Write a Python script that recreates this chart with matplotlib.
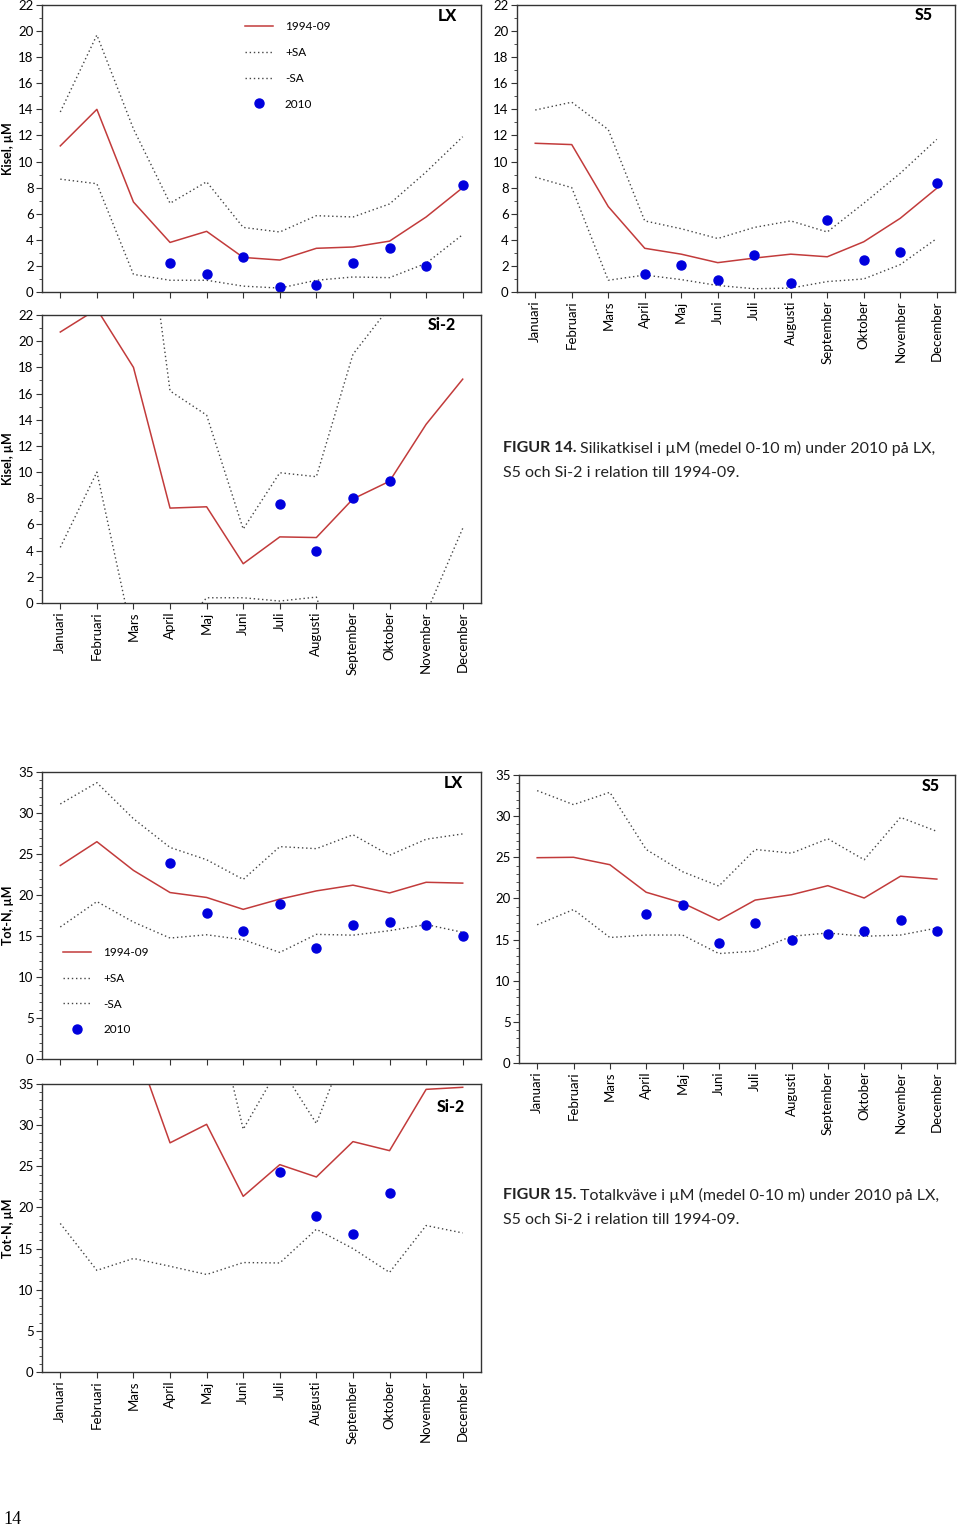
import numpy as np
import matplotlib
matplotlib.use('Agg')
import matplotlib.pyplot as plt
from matplotlib.ticker import MultipleLocator
from matplotlib.lines import Line2D

plt.rcParams['font.family'] = ['Lato', 'DejaVu Sans']

months = ['Januari', 'Februari', 'Mars', 'April', 'Maj', 'Juni', 'Juli',
          'Augusti', 'September', 'Oktober', 'November', 'December']
nan = np.nan

# Kisel (silikat), uM
kisel_lx_mean = [11.2, 14.0, 6.9, 3.8, 4.65, 2.65, 2.45, 3.35, 3.45, 3.9, 5.75, 8.0]
kisel_lx_plus = [13.8, 19.7, 12.5, 6.8, 8.45, 4.95, 4.6, 5.85, 5.75, 6.75, 9.2, 11.9]
kisel_lx_minus = [8.65, 8.3, 1.35, 0.9, 0.9, 0.45, 0.3, 0.9, 1.15, 1.1, 2.2, 4.4]
kisel_lx_2010 = [nan, nan, nan, 2.25, 1.4, 2.7, 0.35, 0.5, 2.2, 3.35, 2.0, 8.2]

kisel_s5_mean = [11.4, 11.3, 6.55, 3.35, 2.9, 2.25, 2.6, 2.9, 2.7, 3.85, 5.65, 7.95]
kisel_s5_plus = [13.95, 14.55, 12.45, 5.45, 4.85, 4.1, 4.95, 5.45, 4.6, 6.8, 9.1, 11.7]
kisel_s5_minus = [8.8, 8.0, 0.9, 1.3, 0.95, 0.5, 0.25, 0.3, 0.8, 1.0, 2.1, 4.1]
kisel_s5_2010 = [nan, nan, nan, 1.35, 2.1, 0.95, 2.85, 0.7, 5.5, 2.45, 3.1, 8.35]

kisel_si2_mean = [20.7, 22.45, 18.0, 7.25, 7.35, 3.0, 5.05, 5.0, 7.95, 9.3, 13.65, 17.1]
kisel_si2_plus = [36.0, 40.0, 37.4, 16.2, 14.35, 5.65, 9.95, 9.65, 19.0, 22.6, 27.0, 28.0]
kisel_si2_minus = [4.25, 10.0, -2.9, -2.8, 0.4, 0.4, 0.15, 0.45, -7.5, -6.0, -0.8, 5.7]
kisel_si2_2010 = [nan, nan, nan, nan, nan, nan, 7.6, 3.95, 8.0, 9.35, nan, nan]

# Tot-N, uM
totn_lx_mean = [23.6, 26.5, 23.0, 20.3, 19.7, 18.25, 19.5, 20.5, 21.2, 20.25, 21.55, 21.45]
totn_lx_plus = [31.1, 33.7, 29.3, 25.8, 24.3, 21.9, 25.9, 25.65, 27.35, 24.85, 26.8, 27.45]
totn_lx_minus = [16.1, 19.2, 16.7, 14.75, 15.15, 14.55, 13.0, 15.2, 15.1, 15.65, 16.4, 15.45]
totn_lx_2010 = [nan, nan, nan, 23.85, 17.8, 15.6, 18.85, 13.5, 16.4, 16.75, 16.4, 14.95]

totn_s5_mean = [24.95, 25.0, 24.1, 20.75, 19.45, 17.35, 19.8, 20.45, 21.55, 20.05, 22.7, 22.35]
totn_s5_plus = [33.1, 31.4, 32.9, 25.95, 23.25, 21.5, 25.95, 25.5, 27.25, 24.7, 29.85, 28.15]
totn_s5_minus = [16.8, 18.65, 15.25, 15.55, 15.55, 13.3, 13.6, 15.4, 15.8, 15.4, 15.55, 16.4]
totn_s5_2010 = [nan, nan, nan, 18.15, 19.2, 14.55, 17.05, 14.9, 15.65, 16.0, 17.4, 16.0]

totn_si2_mean = [42.0, 44.0, 40.3, 27.85, 30.1, 21.35, 25.2, 23.7, 28.0, 26.9, 34.35, 34.6]
totn_si2_plus = [50.0, 52.0, 50.0, 52.0, 48.5, 29.5, 37.2, 30.2, 41.6, 45.0, 46.0, 46.0]
totn_si2_minus = [18.05, 12.35, 13.8, 12.85, 11.85, 13.3, 13.25, 17.35, 15.0, 12.1, 17.8, 16.9]
totn_si2_2010 = [nan, nan, nan, nan, nan, nan, 24.25, 18.9, 16.8, 21.75, nan, nan]

W, H = 960, 1530
fig = plt.figure(figsize=(W / 100, H / 100), dpi=100)

red = '#c23b3b'
blue = '#0000dd'
dots = '#444444'
fs = 9.5


def px_axes(l, t, r, b):
    return fig.add_axes([l / W, 1 - b / H, (r - l) / W, (b - t) / H])


def panel(ax, mean, plus, minus, obs, ymax, ystep, title, tx, ty,
          ylabel=None, xlabels=True):
    x = np.arange(12)
    ax.plot(x, plus, color=dots, lw=1, ls=(0, (1, 2)))
    ax.plot(x, minus, color=dots, lw=1, ls=(0, (1, 2)))
    ax.plot(x, mean, color=red, lw=1.1)
    ax.plot(x, obs, 'o', color=blue, ms=6.5, ls='none')
    ax.set_xlim(-0.5, 11.5)
    ax.set_ylim(0, ymax)
    ax.yaxis.set_major_locator(MultipleLocator(ystep))
    ax.yaxis.set_minor_locator(MultipleLocator(1))
    ax.set_xticks(x)
    if xlabels:
        ax.set_xticklabels(months, rotation=90, fontsize=fs)
    else:
        ax.set_xticklabels([])
    ax.tick_params(axis='both', which='major', direction='out', length=4,
                   width=0.8, color='#333333', labelsize=fs, pad=2)
    ax.tick_params(axis='y', which='minor', direction='out', length=2,
                   width=0.6, color='#333333')
    for s in ax.spines.values():
        s.set_color('#333333')
        s.set_linewidth(1)
    ax.text(tx, ty, title, transform=ax.transAxes, ha='right', va='center',
            fontsize=11.5, fontweight='black')
    if ylabel:
        ax.set_ylabel(ylabel, fontsize=9, fontweight='bold', labelpad=3)


def add_legend(ax, x, y):
    handles = [Line2D([], [], color=red, lw=1.1),
               Line2D([], [], color=dots, lw=1, ls=(0, (1, 2))),
               Line2D([], [], color=dots, lw=1, ls=(0, (1, 2))),
               Line2D([], [], color=blue, marker='o', ms=6.5, ls='none')]
    ax.legend(handles, ['1994-09', '+SA', '-SA', '2010'], loc='upper left',
              bbox_to_anchor=(x, y), frameon=False, fontsize=8.5,
              handlelength=2.4, handletextpad=1.0, labelspacing=1.25,
              borderpad=0, borderaxespad=0)


ax1 = px_axes(42, 5, 481, 292)
panel(ax1, kisel_lx_mean, kisel_lx_plus, kisel_lx_minus, kisel_lx_2010,
      22, 2, 'LX', 0.946, 0.96, ylabel='Kisel, µM', xlabels=False)
add_legend(ax1, 0.462, 0.943)

ax2 = px_axes(517, 5, 955, 292)
panel(ax2, kisel_s5_mean, kisel_s5_plus, kisel_s5_minus, kisel_s5_2010,
      22, 2, 'S5', 0.95, 0.965)

ax3 = px_axes(42, 315, 481, 603)
panel(ax3, kisel_si2_mean, kisel_si2_plus, kisel_si2_minus, kisel_si2_2010,
      22, 2, 'Si-2', 0.942, 0.965, ylabel='Kisel, µM')

ax4 = px_axes(42, 772, 481, 1059)
panel(ax4, totn_lx_mean, totn_lx_plus, totn_lx_minus, totn_lx_2010,
      35, 5, 'LX', 0.958, 0.962, ylabel='Tot-N, µM', xlabels=False)
add_legend(ax4, 0.048, 0.39)

ax5 = px_axes(519, 775, 955, 1063)
panel(ax5, totn_s5_mean, totn_s5_plus, totn_s5_minus, totn_s5_2010,
      35, 5, 'S5', 0.966, 0.962)

ax6 = px_axes(42, 1084, 481, 1372)
panel(ax6, totn_si2_mean, totn_si2_plus, totn_si2_minus, totn_si2_2010,
      35, 5, 'Si-2', 0.963, 0.92, ylabel='Tot-N, µM')

# figurtexter
renderer = fig.canvas.get_renderer()


def caption(x, y, bold, rest1, rest2):
    t = fig.text(x / W, 1 - y / H, bold, fontsize=11.5, fontweight='bold',
                 va='center', ha='left', color='#222222')
    bb = t.get_window_extent(renderer)
    fig.text((bb.x1 + 4) / W, 1 - y / H, rest1, fontsize=11.5, va='center',
             ha='left', color='#222222')
    fig.text(x / W, 1 - (y + 25) / H, rest2, fontsize=11.5, va='center',
             ha='left', color='#222222')


caption(503, 448, 'FIGUR 14.',
        'Silikatkisel i µM (medel 0-10 m) under 2010 på LX,',
        'S5 och Si-2 i relation till 1994-09.')
caption(503, 1195, 'FIGUR 15.',
        'Totalkväve i µM (medel 0-10 m) under 2010 på LX,',
        'S5 och Si-2 i relation till 1994-09.')

fig.text(3 / W, 1 - 1520 / H, '14', fontsize=13, family='Liberation Serif',
         va='center', ha='left')

fig.savefig('out.png', dpi=100)
